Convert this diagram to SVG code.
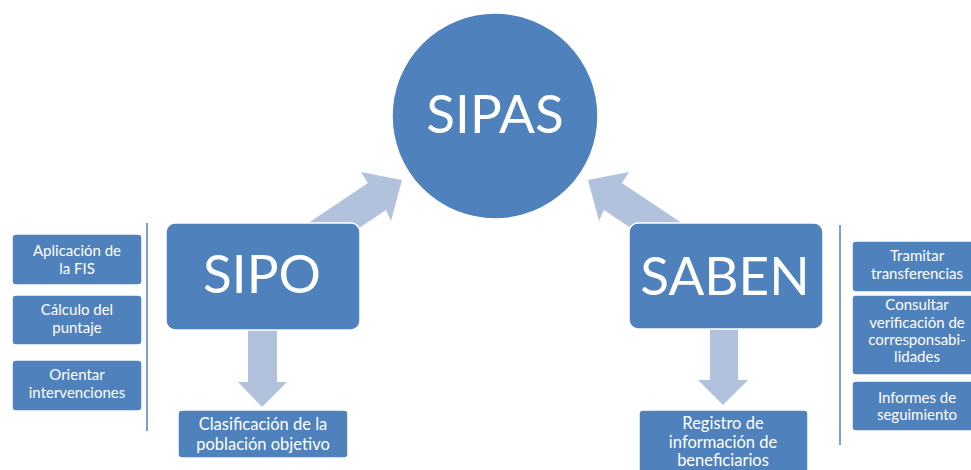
<svg xmlns="http://www.w3.org/2000/svg" width="971" height="470" viewBox="0 0 971 470">
<style>
.n{fill:#4F81BD;stroke:#FFFFFF;stroke-width:1.5}
.a{fill:#B2C2DD}
.t{fill:#FFFFFF;font-family:Lato,"Liberation Sans",sans-serif;text-anchor:middle}
.s{font-size:15px}
.m{font-size:16.5px}
.b{font-size:53px}
.v{stroke:#4F81BD;stroke-width:1.5}
</style>
<rect width="971" height="470" fill="#FFFFFF"/>
<g id="connectors">
<polygon class="a" points="402,180 361,172 368,183 301.6,227.6 319.6,254.6 386,210 391,221"/>
<polygon class="a" points="588,180 629,172 622,183 688.4,227.6 670.4,254.6 604,210 599,221"/>
<polygon class="a" points="248,325 277,325 277,382 287,382 262,407 238,382 248,382"/>
<polygon class="a" points="710,325 738,325 738,380 748,380 723,405 698,380 710,380"/>
<line class="v" x1="147" y1="223" x2="147" y2="431"/>
<line class="v" x1="840" y1="225" x2="840" y2="445"/>
</g>
<g id="sipas">
<circle class="n" cx="495" cy="116" r="103"/>
<text class="t b" x="495" y="133">SIPAS</text>
</g>
<g id="sipo">
<rect class="n" x="166" y="223" width="194" height="107" rx="9"/>
<text class="t b" x="262" y="293">SIPO</text>
</g>
<g id="saben">
<rect class="n" x="629" y="223" width="194" height="106" rx="9"/>
<text class="t b" x="725" y="295">SABEN</text>
</g>
<g id="aplicacion">
<rect class="n" x="12" y="234" width="130" height="51" rx="4"/>
<text class="t s" x="77" y="256">Aplicación de</text>
<text class="t s" x="77" y="274">la FIS</text>
</g>
<g id="calculo">
<rect class="n" x="12" y="295" width="130" height="50" rx="4"/>
<text class="t s" x="77" y="315">Cálculo del</text>
<text class="t s" x="77" y="333">puntaje</text>
</g>
<g id="orientar">
<rect class="n" x="12" y="360" width="130" height="51" rx="4"/>
<text class="t s" x="77" y="380">Orientar</text>
<text class="t s" x="77" y="398">intervenciones</text>
</g>
<g id="clasificacion">
<rect class="n" x="178" y="410" width="170" height="48" rx="4"/>
<text class="t m" x="263" y="430">Clasificación de la</text>
<text class="t m" x="263" y="450">población objetivo</text>
</g>
<g id="registro">
<rect class="n" x="639" y="410" width="169" height="70" rx="4"/>
<text class="t m" x="723" y="429">Registro de</text>
<text class="t m" x="723" y="447.5">información de</text>
<text class="t m" x="723" y="466">beneficiarios</text>
</g>
<g id="tramitar">
<rect class="n" x="852" y="241" width="130" height="51" rx="4"/>
<text class="t s" x="917" y="261">Tramitar</text>
<text class="t s" x="917" y="279">transferencias</text>
</g>
<g id="consultar">
<rect class="n" x="852" y="295" width="130" height="80" rx="4"/>
<text class="t s" x="917" y="310">Consultar</text>
<text class="t s" x="917" y="328">verificación de</text>
<text class="t s" x="917" y="345">corresponsabi-</text>
<text class="t s" x="917" y="362">lidades</text>
</g>
<g id="informes">
<rect class="n" x="852" y="381" width="130" height="50" rx="4"/>
<text class="t s" x="917" y="403">Informes de</text>
<text class="t s" x="917" y="420">seguimiento</text>
</g>
</svg>
